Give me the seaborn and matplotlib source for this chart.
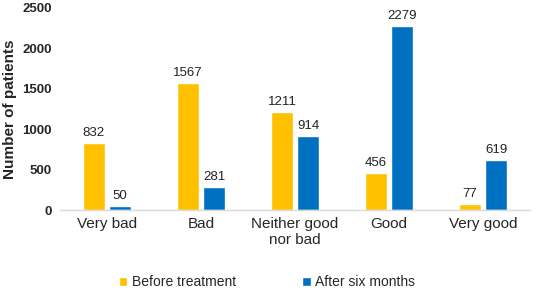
import matplotlib
matplotlib.use("Agg")
import matplotlib.pyplot as plt
import seaborn as sns
import pandas as pd

categories = ["Very bad", "Bad", "Neither good\nnor bad", "Good", "Very good"]
before = [832, 1567, 1211, 456, 77]
after = [50, 281, 914, 2279, 619]
series = ["Before treatment", "After six months"]

df = pd.DataFrame({
    "cat": categories * 2,
    "val": before + after,
    "series": [series[0]] * 5 + [series[1]] * 5,
})

sns.set_style("white")
plt.rcParams['font.family'] = ['Liberation Sans', 'DejaVu Sans']

fig = plt.figure(figsize=(5.36, 2.93), dpi=100)
ax = fig.add_axes([0.112, 0.283, 0.877, 0.69])
sns.barplot(data=df, x="cat", y="val", hue="series", order=categories,
            hue_order=series, palette=["#FFC000", "#0070C0"], saturation=1,
            width=0.56, gap=0.18, ax=ax, legend=True)

for c in ax.containers:
    ax.bar_label(c, padding=3, fontsize=9.5, color="#222222")

ax.set_ylim(0, 2500)
ax.set_yticks([0, 500, 1000, 1500, 2000, 2500])
ax.set_xlim(-0.5, 4.5)
ax.set_ylabel("Number of patients", fontsize=11, fontweight="bold")
ax.set_xlabel("")
for lbl in ax.get_yticklabels():
    lbl.set_fontweight("bold")
ax.tick_params(axis="y", labelsize=9.5, length=0, pad=6)
ax.tick_params(axis="x", labelsize=11, length=0, pad=5)
for s in ["top", "right", "left"]:
    ax.spines[s].set_visible(False)
ax.spines["bottom"].set_color("#d9d9d9")
ax.spines["bottom"].set_linewidth(1)

ax.get_legend().remove()
handles, labels = ax.get_legend_handles_labels()
fig.legend(handles, labels, loc="center", bbox_to_anchor=(0.498, 0.036), ncol=2,
           frameon=False, fontsize=10, handlelength=0.6, handleheight=0.6,
           handletextpad=0.3, columnspacing=4.8, borderpad=0)

fig.savefig("out.png", dpi=100)
